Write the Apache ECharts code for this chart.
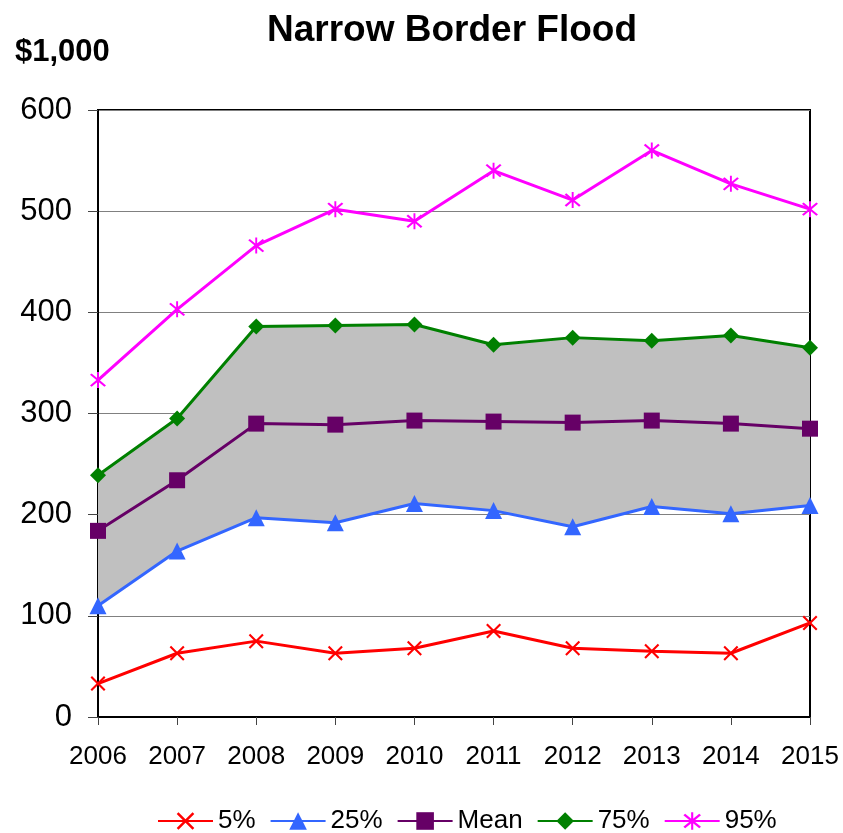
<!DOCTYPE html>
<html><head><meta charset="utf-8">
<script src="https://cdn.jsdelivr.net/npm/echarts@6/dist/echarts.min.js"></script>
<style>html,body{margin:0;padding:0;background:#fff}#c{width:843px;height:833px}</style>
</head><body><div id="c"></div>
<script>
const years = ['2006','2007','2008','2009','2010','2011','2012','2013','2014','2015'];
const p5   = [33, 63, 75, 63, 68, 85, 68, 65, 63, 93];
const p25  = [110, 164, 197, 192, 211, 204, 188, 208, 201, 209];
const mean = [184, 234, 290, 289, 293, 292, 291, 293, 290, 285];
const p75  = [239, 295, 386, 387, 388, 368, 375, 372, 377, 365];
const p95  = [333, 403, 466, 502, 490, 540, 511, 560, 527, 502];
const yTicks = [0, 100, 200, 300, 400, 500, 600];

const crossPath = 'path://M1,0 L5,4 L9,0 L10,1 L6,5 L10,9 L9,10 L5,6 L1,10 L0,9 L4,5 L0,1 Z';
const starPath = 'path://M1,0 L5,4 L9,0 L10,1 L6,5 L10,9 L9,10 L5,6 L1,10 L0,9 L4,5 L0,1 Z M4.4,-1 L5.6,-1 L5.6,11 L4.4,11 Z';

const font = 'Liberation Sans, Arial, sans-serif';
function lineSeries(name, data, color, symbol, size) {
  return {
    name, type: 'line', data, symbol, symbolSize: size, showAllSymbol: true,
    lineStyle: { color, width: 3 }, itemStyle: { color }, z: 5
  };
}
const bandBase = p25;
const bandDiff = p75.map((v, i) => v - p25[i]);

const chart = echarts.init(document.getElementById('c'));
chart.setOption({
  animation: false,
  textStyle: { fontFamily: font },
  title: [
    { text: 'Narrow Border Flood', left: 447, textAlign: 'center', top: 7,
      textStyle: { fontSize: 37, fontWeight: 'bold', color: '#000', fontFamily: font } },
    { text: '$1,000', left: 10, top: 32,
      textStyle: { fontSize: 31, fontWeight: 'bold', color: '#000', fontFamily: font } }
  ],
  grid: { left: 98, right: 33, top: 110, bottom: 116, show: true, borderColor: '#000', borderWidth: 2 },
  legend: {
    top: 803, left: 152, itemWidth: 55, itemHeight: 22, itemGap: 14,
    data: ['5%', '25%', 'Mean', '75%', '95%'],
    textStyle: { fontSize: 26, color: '#000', fontFamily: font }
  },
  xAxis: {
    type: 'category', data: years, boundaryGap: false,
    axisLine: { lineStyle: { color: '#000', width: 2 } },
    axisTick: { show: true, alignWithLabel: true, length: 8, lineStyle: { color: '#444' } },
    axisLabel: { fontSize: 26, color: '#000', margin: 27, fontFamily: font },
    splitLine: { show: false }
  },
  yAxis: {
    type: 'value', min: yTicks[0], max: yTicks[yTicks.length - 1], interval: 100,
    axisLine: { show: true, lineStyle: { color: '#000', width: 2 } },
    axisTick: { show: true, length: 10, lineStyle: { color: '#444' } },
    axisLabel: { fontSize: 31, color: '#000', margin: 26, fontFamily: font },
    splitLine: { show: true, lineStyle: { color: '#808080', width: 1 } }
  },
  series: [
    { name: 'bandBase', type: 'line', stack: 'band', data: bandBase, symbol: 'none',
      lineStyle: { width: 0, opacity: 0 }, silent: true, z: 1 },
    { name: 'band', type: 'line', stack: 'band', data: bandDiff, symbol: 'none',
      lineStyle: { width: 0, opacity: 0 }, areaStyle: { color: '#C0C0C0', opacity: 1 }, silent: true, z: 1 },
    lineSeries('5%', p5, '#FF0000', crossPath, 15),
    lineSeries('25%', p25, '#3366FF', 'triangle', 17),
    lineSeries('Mean', mean, '#660066', 'rect', 16),
    lineSeries('75%', p75, '#008000', 'diamond', 16),
    lineSeries('95%', p95, '#FF00FF', starPath, 16)
  ]
});
</script></body></html>
